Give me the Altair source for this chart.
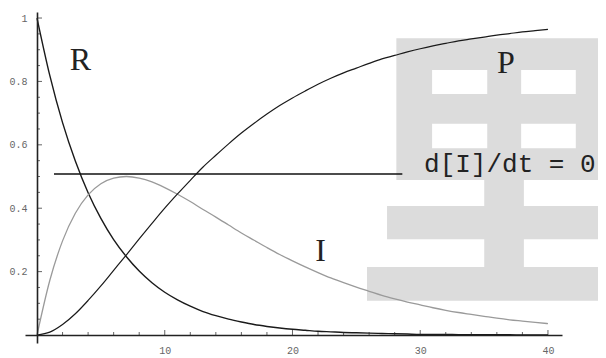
import altair as alt
import pandas as pd

# time axis
t = list(range(41))

# concentrations
R = [1.000, 0.819, 0.670, 0.549, 0.449, 0.368, 0.301, 0.247, 0.202, 0.165,
     0.135, 0.111, 0.091, 0.074, 0.061, 0.050, 0.041, 0.033, 0.027, 0.022,
     0.018, 0.015, 0.012, 0.010, 0.008, 0.007, 0.006, 0.005, 0.004, 0.003,
     0.002, 0.002, 0.002, 0.001, 0.001, 0.001, 0.001, 0.001, 0.000, 0.000, 0.000]
I = [0.000, 0.172, 0.297, 0.384, 0.442, 0.477, 0.495, 0.500, 0.495, 0.483,
     0.465, 0.444, 0.421, 0.396, 0.372, 0.347, 0.322, 0.299, 0.276, 0.254,
     0.234, 0.215, 0.197, 0.180, 0.165, 0.151, 0.138, 0.125, 0.114, 0.104,
     0.095, 0.086, 0.078, 0.071, 0.065, 0.059, 0.053, 0.048, 0.044, 0.040, 0.036]
P = [0.000, 0.009, 0.033, 0.067, 0.109, 0.155, 0.204, 0.253, 0.303, 0.352,
     0.400, 0.445, 0.488, 0.530, 0.567, 0.603, 0.637, 0.668, 0.697, 0.724,
     0.748, 0.770, 0.791, 0.810, 0.827, 0.842, 0.857, 0.871, 0.882, 0.893,
     0.903, 0.912, 0.920, 0.928, 0.934, 0.940, 0.946, 0.951, 0.956, 0.960, 0.964]

# curve labels
label_text = ["R", "I", "P"]
label_t = [3.4, 22.2, 36.7]
label_c = [0.836, 0.233, 0.826]

# steady-state line d[I]/dt = 0
ss_t1 = [1.33]
ss_t2 = [28.6]
ss_c = [0.508]
ss_text = ["d[I]/dt = 0"]
ss_text_t = [30.3]
ss_text_c = [0.514]

# axis ticks
x_major = [10, 20, 30, 40]
x_minor = [2, 4, 6, 8, 12, 14, 16, 18, 22, 24, 26, 28, 32, 34, 36, 38]
y_major = [0.2, 0.4, 0.6, 0.8, 1.0]
y_minor = [0.05, 0.1, 0.15, 0.25, 0.3, 0.35, 0.45, 0.5, 0.55, 0.65, 0.7,
           0.75, 0.85, 0.9, 0.95]

# watermark
wm_text = ["里"]
wm_t = [36.4]
wm_c = [0.45]

xscale = alt.Scale(domain=[-0.94, 41.1], nice=False, zero=False)
yscale = alt.Scale(domain=[-0.0252, 1.019], nice=False, zero=False)

x_axis = alt.Axis(values=x_major, format="d", offset=-8, ticks=False, tickSize=0,
                  labelPadding=10, domainColor="#222222", domainWidth=1.6,
                  labelFont="Liberation Mono", labelFontSize=10, labelColor="#666666",
                  grid=False, title=None, zindex=1)
y_axis = alt.Axis(values=y_major, format="~g", offset=-12, ticks=False, tickSize=0,
                  labelPadding=10, domainColor="#222222", domainWidth=1.6,
                  labelFont="Liberation Mono", labelFontSize=10, labelColor="#666666",
                  grid=False, title=None, zindex=1)


def X(f):
    return alt.X(f, scale=xscale, axis=x_axis, title=None)


def Y(f):
    return alt.Y(f, scale=yscale, axis=y_axis, title=None)


curves = pd.DataFrame({
    "t": t * 3,
    "c": R + I + P,
    "s": ["R"] * len(t) + ["I"] * len(t) + ["P"] * len(t),
})

watermark = alt.Chart(pd.DataFrame({"t": wm_t, "c": wm_c, "txt": wm_text})).mark_text(
    font="Noto Sans CJK SC", fontWeight="bold", fontSize=300, color="#dcdcdc",
    align="center", baseline="middle"
).encode(x=X("t:Q"), y=Y("c:Q"), text="txt:N")

lines = alt.Chart(curves).mark_line(interpolate="monotone").encode(
    x=X("t:Q"),
    y=Y("c:Q"),
    color=alt.Color("s:N", scale=alt.Scale(domain=["R", "I", "P"],
                                           range=["#1a1a1a", "#9a9a9a", "#1a1a1a"]),
                    legend=None),
    strokeWidth=alt.StrokeWidth("s:N", scale=alt.Scale(domain=["R", "I", "P"],
                                                       range=[1.4, 1.2, 1.4]),
                                legend=None),
    detail="s:N",
)

ss_line = alt.Chart(pd.DataFrame({"t": ss_t1, "t2": ss_t2, "c": ss_c})).mark_rule(
    color="#111111", strokeWidth=1.5
).encode(x=X("t:Q"), x2="t2:Q", y=Y("c:Q"))

ss_label = alt.Chart(pd.DataFrame({"t": ss_text_t, "c": ss_text_c, "txt": ss_text})).mark_text(
    font="Liberation Mono", fontSize=26, color="#222222", align="left", baseline="alphabetic"
).encode(x=X("t:Q"), y=Y("c:Q"), text="txt:N")

labels = alt.Chart(pd.DataFrame({"t": label_t, "c": label_c, "txt": label_text})).mark_text(
    font="Liberation Serif", fontSize=32, color="#222222", align="center", baseline="alphabetic"
).encode(x=X("t:Q"), y=Y("c:Q"), text="txt:N")


def xticks(vals, size):
    return alt.Chart(pd.DataFrame({"t": vals, "c": [0.0] * len(vals)})).mark_tick(
        orient="vertical", size=size, thickness=1, color="#222222", yOffset=-size / 2
    ).encode(x=X("t:Q"), y=Y("c:Q"))


def yticks(vals, size):
    return alt.Chart(pd.DataFrame({"t": [0.0] * len(vals), "c": vals})).mark_tick(
        orient="horizontal", size=size, thickness=1, color="#222222", xOffset=size / 2
    ).encode(x=X("t:Q"), y=Y("c:Q"))


chart = alt.layer(
    watermark, lines, ss_line, ss_label, labels,
    xticks(x_major, 5), xticks(x_minor, 3), yticks(y_major, 5), yticks(y_minor, 3),
).properties(
    width=537, height=331,
    autosize=alt.AutoSizeParams(type="none"),
    padding={"left": 17, "top": 4, "right": 36, "bottom": 14},
    background="white",
).configure_view(strokeWidth=0)

chart.save("out.html", embed_options={"renderer": "svg", "actions": False})
